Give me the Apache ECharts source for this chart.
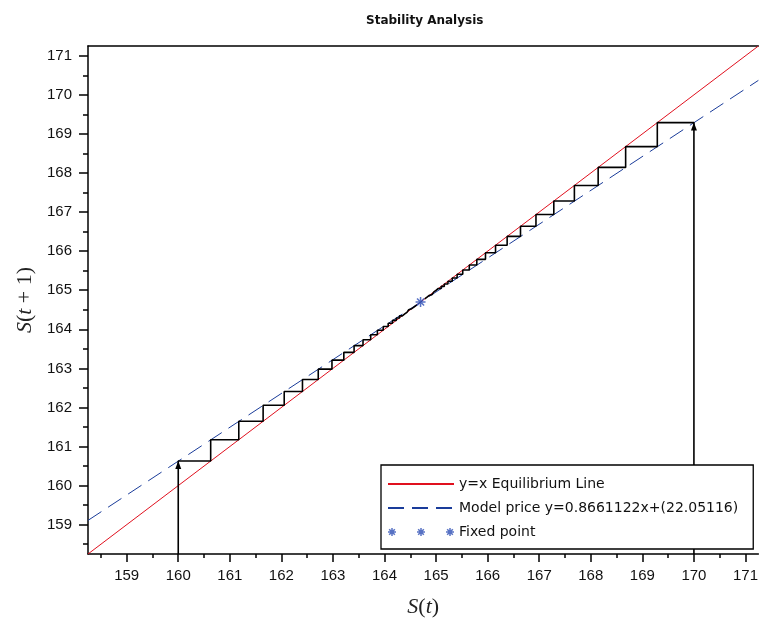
<!DOCTYPE html>
<html>
<head>
<meta charset="utf-8">
<script src="https://cdn.jsdelivr.net/npm/echarts@6/dist/echarts.min.js"></script>
<style>html,body{margin:0;padding:0;background:#fff;}#c{width:761px;height:624px;}</style>
</head>
<body>
<div id="c"></div>
<script>
// ---- data ----
const axisMin = 158.25;
const axisMax = 171.25;
const xTicks = [159,160,161,162,163,164,165,166,167,168,169,170,171];
const yTicks = [159,160,161,162,163,164,165,166,167,168,169,170,171];
const xMinor = [158.5,159.5,160.5,161.5,162.5,163.5,164.5,165.5,166.5,167.5,168.5,169.5,170.5];
const yMinor = [158.5,159.5,160.5,161.5,162.5,163.5,164.5,165.5,166.5,167.5,168.5,169.5,170.5];
const eqX = [158.25, 171.25];
const eqY = [158.25, 171.25];
const modelX = [158.25, 171.25];
const modelY = [159.11, 170.37];
const fixedPoint = [164.699, 164.699];
const cobwebBase = 158.25;
const lowIterates = [160.000,160.629,161.174,161.646,162.055,162.409,162.715,162.981,163.211,163.410,163.583,163.732,163.862,163.974,164.071,164.155,164.228,164.291,164.345,164.393,164.434,164.469,164.500,164.527,164.550,164.570,164.587,164.602,164.615,164.626,164.636];
const highIterates = [170.000,169.290,168.676,168.143,167.682,167.283,166.937,166.637,166.378,166.153,165.958,165.790,165.644,165.517,165.408,165.313,165.230,165.159,165.098,165.044,164.998,164.958,164.923,164.893,164.867,164.845,164.825,164.808,164.794,164.781,164.770];
const seriesNames = ['y=x Equilibrium Line', 'Model price y=0.8661122x+(22.05116)', 'Fixed point'];

// ---- helpers ----
function starPath(cx, r, t) {
  const f = (x, y) => (x + cx).toFixed(2) + ' ' + y.toFixed(2);
  const d = t * 0.707, q = r * 0.707;
  return 'M' + f(-t,-r) + ' L' + f(t,-r) + ' L' + f(t,r) + ' L' + f(-t,r) + ' Z ' +
         'M' + f(-r,-t) + ' L' + f(r,-t) + ' L' + f(r,t) + ' L' + f(-r,t) + ' Z ' +
         'M' + f(-q+d,-q-d) + ' L' + f(q+d,q-d) + ' L' + f(q-d,q+d) + ' L' + f(-q-d,-q+d) + ' Z ' +
         'M' + f(q+d,-q+d) + ' L' + f(-q+d,q+d) + ' L' + f(-q-d,q-d) + ' L' + f(q-d,-q-d) + ' Z';
}
const starSymbol = 'path://' + starPath(0, 4, 0.6);
const tripleStar = 'path://' + starPath(0, 4, 0.75) + ' ' + starPath(29, 4, 0.75) + ' ' + starPath(58, 4, 0.75);

function cobweb(a) {
  const pts = [{value: [a[0], cobwebBase]},
               {value: [a[0], a[1]], symbol: 'triangle', symbolSize: [6, 8], symbolOffset: [0, 4]}];
  for (let i = 1; i < a.length - 1; i++) {
    pts.push({value: [a[i], a[i]]});
    pts.push({value: [a[i], a[i + 1]]});
  }
  return pts;
}
function pairs(xs, ys) { return xs.map((x, i) => [x, ys[i]]); }

const tickFont = {fontFamily: 'Liberation Sans', fontSize: 15, color: '#111'};
const nameRich = {
  i: {fontFamily: 'Liberation Serif', fontStyle: 'italic', fontSize: 22, color: '#222'},
  n: {fontFamily: 'Liberation Serif', fontSize: 22, color: '#222'}
};
const axisLineStyle = {color: '#000', width: 1.5};
const hiddenSymbol = {color: 'rgba(0,0,0,0)', borderWidth: 0, opacity: 0};

const chart = echarts.init(document.getElementById('c'), null, {renderer: 'canvas'});
chart.setOption({
  animation: false,
  backgroundColor: '#fff',
  title: {
    text: 'Stability Analysis',
    left: 366, top: 15, padding: 0,
    textStyle: {fontFamily: 'DejaVu Sans', fontWeight: 'bold', fontSize: 12, color: '#111'}
  },
  grid: {left: 88, top: 46, width: 672, height: 508, containLabel: false},
  xAxis: [
    {
      type: 'value', min: axisMin, max: axisMax, position: 'bottom',
      axisLine: {show: true, onZero: false, lineStyle: axisLineStyle},
      axisTick: {show: true, inside: false, length: 8, customValues: xTicks, lineStyle: axisLineStyle},
      axisLabel: {show: true, customValues: xTicks, margin: 14, ...tickFont},
      splitLine: {show: false},
      name: '{i|S}{n|(}{i|t}{n|)}', nameLocation: 'middle', nameGap: 42,
      nameTextStyle: {rich: nameRich}
    },
    {
      type: 'value', min: axisMin, max: axisMax, position: 'bottom',
      axisLine: {show: false},
      axisTick: {show: true, inside: false, length: 4, customValues: xMinor, lineStyle: axisLineStyle},
      axisLabel: {show: false}, splitLine: {show: false}
    },
    {
      type: 'value', min: axisMin, max: axisMax, position: 'top',
      axisLine: {show: true, onZero: false, lineStyle: axisLineStyle},
      axisTick: {show: false}, axisLabel: {show: false}, splitLine: {show: false}
    }
  ],
  yAxis: [
    {
      type: 'value', min: axisMin, max: axisMax, position: 'left',
      axisLine: {show: true, onZero: false, lineStyle: axisLineStyle},
      axisTick: {show: true, inside: false, length: 9, customValues: yTicks, lineStyle: axisLineStyle},
      axisLabel: {show: true, customValues: yTicks, margin: 16, ...tickFont},
      splitLine: {show: false},
      name: '{i|S}{n|(}{i|t}{n| + 1)}', nameLocation: 'middle', nameGap: 52, nameRotate: 90,
      nameTextStyle: {rich: nameRich}
    },
    {
      type: 'value', min: axisMin, max: axisMax, position: 'left',
      axisLine: {show: false},
      axisTick: {show: true, inside: false, length: 5, customValues: yMinor, lineStyle: axisLineStyle},
      axisLabel: {show: false}, splitLine: {show: false}
    }
  ],
  legend: {
    orient: 'vertical', left: 381, top: 465,
    padding: [12, 15, 10, 6], itemGap: 10, itemWidth: 66, itemHeight: 14,
    borderColor: '#000', borderWidth: 1.3, backgroundColor: '#fff',
    textStyle: {fontFamily: 'DejaVu Sans', fontSize: 14, color: '#111'},
    selectedMode: false,
    data: [
      {name: seriesNames[0], itemStyle: hiddenSymbol},
      {name: seriesNames[1], itemStyle: hiddenSymbol},
      {name: seriesNames[2], icon: tripleStar}
    ]
  },
  series: [
    {
      name: seriesNames[0], type: 'line', data: pairs(eqX, eqY), symbol: 'none',
      lineStyle: {color: '#e0101e', width: 1}, itemStyle: {color: '#e0101e'}, z: 2
    },
    {
      name: seriesNames[1], type: 'line', data: pairs(modelX, modelY), symbol: 'none',
      lineStyle: {color: '#1a3c9a', width: 1, type: [16, 8]}, itemStyle: {color: '#1a3c9a'}, z: 2
    },
    {
      name: 'cobweb-low', type: 'line', data: cobweb(lowIterates), symbol: 'none', showSymbol: true,
      lineStyle: {color: '#000', width: 1.6}, itemStyle: {color: '#000'}, z: 3
    },
    {
      name: 'cobweb-high', type: 'line', data: cobweb(highIterates), symbol: 'none', showSymbol: true,
      lineStyle: {color: '#000', width: 1.6}, itemStyle: {color: '#000'}, z: 3
    },
    {
      name: seriesNames[2], type: 'scatter', data: [fixedPoint], symbol: starSymbol, symbolSize: 10,
      itemStyle: {color: '#2e4fb5'}, z: 5
    }
  ]
});
</script>
</body>
</html>
